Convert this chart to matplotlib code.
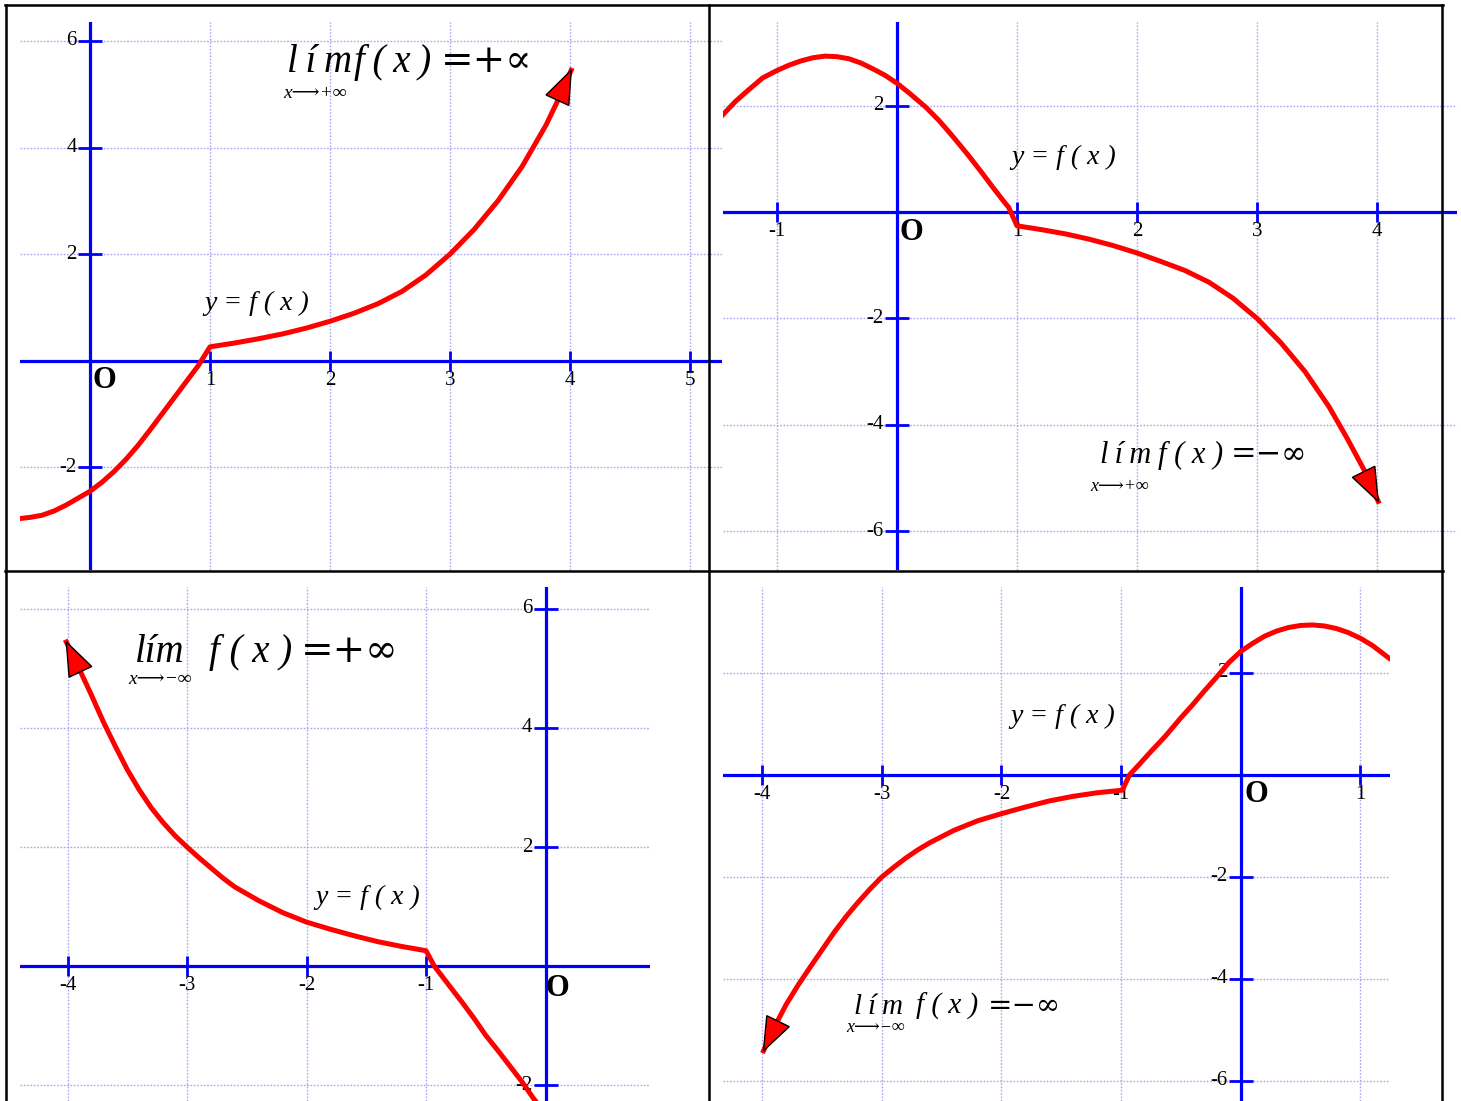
import matplotlib.pyplot as plt
import numpy as np
from matplotlib.lines import Line2D
from matplotlib.patches import Polygon

W, H = 1461, 1101

# panel 1: x -> +inf, f -> +inf
p1_xa = [-0.58, -0.5, -0.4, -0.3, -0.2, -0.1, 0.0, 0.1, 0.2, 0.3, 0.4, 0.5, 0.6, 0.7, 0.8, 0.9, 1.0]
p1_ya = [-2.96, -2.94, -2.9, -2.82, -2.71, -2.58, -2.45, -2.28, -2.08, -1.85, -1.59, -1.3, -1.0, -0.7, -0.4, -0.1, 0.26]
p1_xb = [1.0, 1.2, 1.4, 1.6, 1.8, 2.0, 2.2, 2.4, 2.6, 2.8, 3.0, 3.2, 3.4, 3.6, 3.8, 3.9, 4.01]
p1_yb = [0.26, 0.33, 0.41, 0.5, 0.61, 0.74, 0.89, 1.07, 1.3, 1.61, 2.0, 2.46, 3.0, 3.64, 4.42, 4.89, 5.45]
p1_xticks = [1, 2, 3, 4, 5]
p1_yticks = [6, 4, 2, -2]

# panel 2: x -> +inf, f -> -inf
p2_xa = [-1.45, -1.35, -1.25, -1.12, -1.0, -0.9, -0.8, -0.7, -0.6, -0.5, -0.4, -0.3, -0.2, -0.1,
         0.0, 0.1, 0.24, 0.35, 0.45, 0.52, 0.6, 0.7, 0.8, 0.9, 0.93, 1.0]
p2_ya = [1.83, 2.07, 2.27, 2.52, 2.66, 2.76, 2.84, 2.9, 2.93, 2.92, 2.88, 2.8, 2.69, 2.57,
         2.42, 2.24, 1.97, 1.72, 1.46, 1.27, 1.05, 0.76, 0.46, 0.17, 0.09, -0.26]
p2_xb = [1.0, 1.2, 1.4, 1.6, 1.8, 2.0, 2.2, 2.4, 2.6, 2.8, 3.0, 3.2, 3.4, 3.6, 3.75, 3.9, 4.01]
p2_yb = [-0.26, -0.33, -0.41, -0.51, -0.63, -0.77, -0.93, -1.1, -1.32, -1.62, -2.0, -2.46, -3.0, -3.66, -4.25, -4.88, -5.44]
p2_xticks = [-1, 1, 2, 3, 4]
p2_yticks = [2, -2, -4, -6]

# panel 3: x -> -inf, f -> +inf
p3_xa = [-4.01, -3.9, -3.8, -3.7, -3.6, -3.5, -3.4, -3.3, -3.2, -3.1, -3.0, -2.9, -2.8, -2.7,
         -2.6, -2.4, -2.2, -2.0, -1.8, -1.6, -1.4, -1.2, -1.0]
p3_ya = [5.44, 4.98, 4.55, 4.1, 3.69, 3.3, 2.96, 2.66, 2.41, 2.19, 2.0, 1.82, 1.65, 1.48,
         1.33, 1.1, 0.9, 0.74, 0.62, 0.51, 0.41, 0.33, 0.26]
p3_xb = [-1.0, -0.93, -0.8, -0.7, -0.6, -0.5, -0.4, -0.3, -0.2, -0.1, -0.06]
p3_yb = [0.26, 0.0, -0.34, -0.6, -0.87, -1.16, -1.41, -1.67, -1.93, -2.22, -2.32]
p3_xticks = [-4, -3, -2, -1]
p3_yticks = [6, 4, 2, -2]

# panel 4: x -> -inf, f -> -inf
p4_xa = [-3.99, -3.9, -3.8, -3.7, -3.6, -3.5, -3.4, -3.3, -3.2, -3.1, -3.0, -2.9, -2.8, -2.7,
         -2.6, -2.4, -2.2, -2.0, -1.8, -1.6, -1.4, -1.2, -0.99]
p4_ya = [-5.41, -4.95, -4.5, -4.12, -3.77, -3.43, -3.09, -2.78, -2.5, -2.24, -2.0, -1.81, -1.63, -1.47,
         -1.33, -1.09, -0.9, -0.76, -0.63, -0.51, -0.42, -0.35, -0.3]
p4_xb = [-0.99, -0.93, -0.85, -0.75, -0.63, -0.5, -0.4, -0.31, -0.2, -0.1, 0.0, 0.1, 0.2, 0.3,
         0.4, 0.5, 0.6, 0.7, 0.8, 0.9, 1.0, 1.1, 1.24]
p4_yb = [-0.3, 0.0, 0.2, 0.46, 0.76, 1.12, 1.38, 1.63, 1.92, 2.2, 2.42, 2.58, 2.72, 2.82,
         2.89, 2.93, 2.94, 2.92, 2.87, 2.79, 2.68, 2.54, 2.29]
p4_xticks = [-4, -3, -2, -1, 1]
p4_yticks = [2, -2, -4, -6]

SERIF = ['Liberation Serif', 'DejaVu Serif', 'DejaVu Sans']
WIDE = ['DejaVu Serif', 'DejaVu Sans']
BLUE = '#0000ff'
GRID = '#a8a8f0'
TS = '\u2009'

fig = plt.figure(figsize=(W / 100, H / 100), dpi=100)


def make_panel(box, origin, scale):
    x0, y0, x1, y1 = box
    ax = fig.add_axes([x0 / W, 1 - y1 / H, (x1 - x0) / W, (y1 - y0) / H])
    ox, oy = origin
    sx, sy = scale
    ax.set_xlim((x0 - ox) / sx, (x1 - ox) / sx)
    ax.set_ylim((oy - y1) / sy, (oy - y0) / sy)
    ax.axis('off')
    return ax


def arrow_head(ax, tip, back, length=33, half=12.5):
    t = ax.transData.transform(tip)
    b = ax.transData.transform(back)
    d = (t - b) / np.hypot(*(t - b))
    n = np.array([-d[1], d[0]])
    base = t - d * length
    pts = np.array([t, base + n * half, base - n * half])
    pts = ax.transData.inverted().transform(pts)
    ax.add_patch(Polygon(pts, closed=True, fc='red', ec='black', lw=1, zorder=6))


def draw_panel(ax, xa, ya, xb, yb, xticks, yticks, tip_first):
    xl, yl = ax.get_xlim(), ax.get_ylim()
    for xv in range(int(np.ceil(xl[0])), int(np.floor(xl[1])) + 1):
        ax.axvline(xv, color=GRID, lw=1, ls=(0, (1.2, 1.2)), zorder=1)
    for yv in range(int(np.ceil(yl[0] / 2)) * 2, int(yl[1]) + 1, 2):
        ax.axhline(yv, color=GRID, lw=1, ls=(0, (1.2, 1.2)), zorder=1)
    ax.axhline(0, color=BLUE, lw=2.3, zorder=2)
    ax.axvline(0, color=BLUE, lw=2.3, zorder=2)
    ax.plot(xticks, np.zeros(len(xticks)), ls='none', marker='|', ms=15, mew=2, color=BLUE, zorder=2)
    ax.plot(np.zeros(len(yticks)), yticks, ls='none', marker='_', ms=17, mew=2, color=BLUE, zorder=2)
    for v in xticks:
        ax.annotate(str(v), (v, 0), xytext=(0, -14), textcoords='offset points',
                    ha='center', va='center', fontsize=15, family=SERIF, zorder=3)
    for v in yticks:
        ax.annotate(str(v), (0, v), xytext=(-9.5, 0), textcoords='offset points',
                    ha='right', va='center', fontsize=15, family=SERIF, zorder=3)
    x = list(xa) + list(xb[1:])
    y = list(ya) + list(yb[1:])
    ax.plot(x, y, color='red', lw=3.6, solid_joinstyle='round', zorder=5)
    if tip_first:
        arrow_head(ax, (x[0], y[0]), (x[2], y[2]))
    else:
        arrow_head(ax, (x[-1], y[-1]), (x[-3], y[-3]))


def labels(ax, fx_pos, pieces, size, base_y, sub, sub_pos, sub_size, o_pos):
    ax.text(fx_pos[0], fx_pos[1], 'y = f ( x )', style='italic', fontsize=20,
            family=SERIF, va='center', ha='left', zorder=3)
    for txt, xp, italic in pieces:
        ax.text(xp, base_y, txt, style='italic' if italic else 'normal', fontsize=size,
                family=SERIF if italic else WIDE, va='baseline', ha='left', zorder=3)
    ax.text(sub_pos[0], sub_pos[1], sub, style='italic', fontsize=sub_size,
            family=SERIF, va='baseline', ha='left', zorder=3)
    ax.text(o_pos[0], o_pos[1], 'O', fontweight='bold', fontsize=22, family=SERIF,
            va='center', ha='left', zorder=3)


ax1 = make_panel((20, 22, 722, 570), (90, 360.7), (120, 53.3))
draw_panel(ax1, p1_xa, p1_ya, p1_xb, p1_yb, p1_xticks, p1_yticks, False)
labels(ax1, (0.95, 1.08),
       [(TS.join('lím'), 1.642, True), (TS.join('f(x)'), 2.2, True), ('=+∝', 2.92, False)],
       28, 5.42, 'x⟶+∞', (1.61, 4.93), 14, (0.02, -0.38))

ax2 = make_panel((723, 22, 1457, 570), (897, 212), (120, 53.2))
draw_panel(ax2, p2_xa, p2_ya, p2_xb, p2_yb, p2_xticks, p2_yticks, False)
labels(ax2, (0.95, 1.03),
       [(TS.join('lím'), 1.692, True), ('f ( x )', 2.175, True), ('=−∞', 2.78, False)],
       22, -4.72, 'x⟶+∞', (1.608, -5.24), 13, (0.02, -0.38))

ax3 = make_panel((20, 587, 650, 1101), (545.5, 966.2), (119.5, 59.6))
draw_panel(ax3, p3_xa, p3_ya, p3_xb, p3_yb, p3_xticks, p3_yticks, True)
labels(ax3, (-1.93, 1.15),
       [('lím', -3.432, True), ('f ( x )', -2.816, True), ('=+∞', -2.049, False)],
       28, 5.11, 'x⟶−∞', (-3.49, 4.74), 14, (0.0, -0.38))

ax4 = make_panel((723, 587, 1390, 1101), (1240.7, 774.9), (119.6, 51))
draw_panel(ax4, p4_xa, p4_ya, p4_xb, p4_yb, p4_xticks, p4_yticks, True)
labels(ax4, (-1.93, 1.15),
       [(TS.join('lím'), -3.236, True), ('f ( x )', -2.715, True), ('=−∞', -2.11, False)],
       21, -4.68, 'x⟶−∞', (-3.30, -5.05), 13, (0.03, -0.38))

# table borders
for xp in (6, 709, 1442):
    fig.add_artist(Line2D([xp / W, xp / W], [1 - 5 / H, 0], color='black', lw=1.8))
for yp in (5, 571):
    fig.add_artist(Line2D([5 / W, 1443 / W], [1 - yp / H, 1 - yp / H], color='black', lw=1.8))

fig.savefig('out.png', dpi=100)
